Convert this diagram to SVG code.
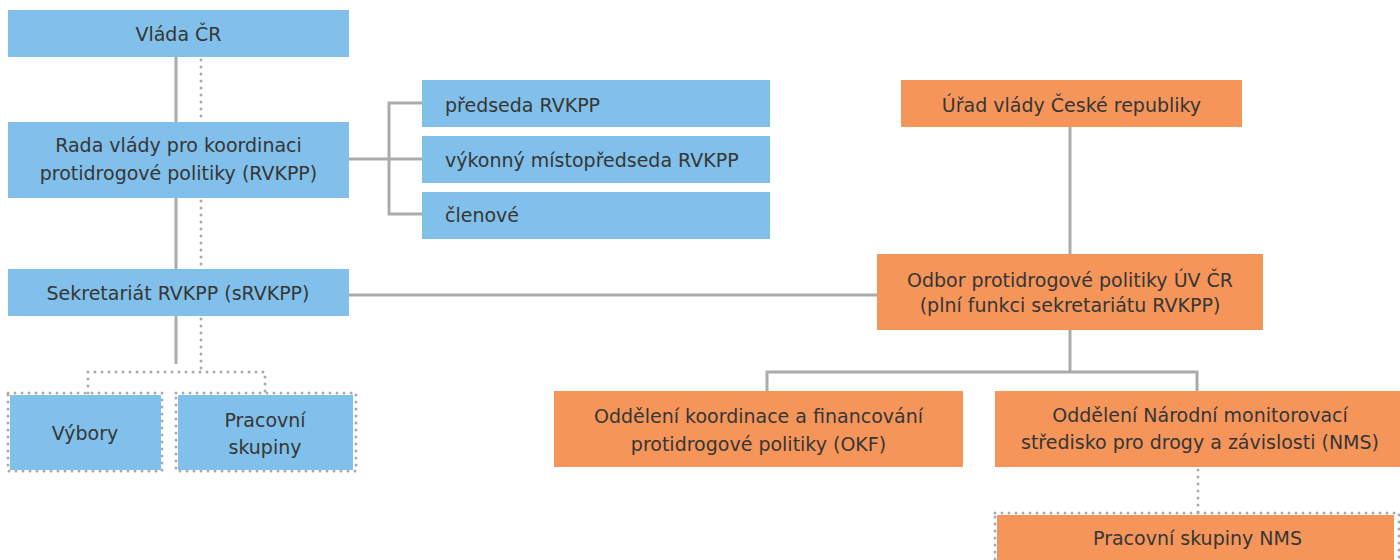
<svg xmlns="http://www.w3.org/2000/svg" width="1400" height="560" viewBox="0 0 1400 560">
<style>
.blue{fill:#81C0EA}
.orange{fill:#F5955A}
.t{font-family:"DejaVu Sans","Liberation Sans",sans-serif;font-size:19px;fill:#363636}
.c{text-anchor:middle}
.solid{fill:none;stroke:#ABABAE;stroke-width:3}
.dot{fill:none;stroke:#ABABAE;stroke-width:3;stroke-dasharray:0 7;stroke-linecap:round}
</style>
<rect width="1400" height="560" fill="#fff"/>
<g id="connectors">
<path class="solid" d="M176,57V122M176,198V269M176,316V364"/>
<path class="dot" d="M201,60V122M201,201V269M201,319V372M88,393V372H265V393"/>
<path class="solid" d="M349,159H422M422,103H389V214H422"/>
<path class="solid" d="M349,295H877"/>
<path class="solid" d="M1070,127V254M1070,330V372M767,391V372H1197V391"/>
<path class="dot" d="M1198,470V513"/>
</g>
<g id="vlada">
<rect class="blue" x="8" y="10" width="341" height="47"/>
<text class="t c" x="178.5" y="41">Vláda ČR</text>
</g>
<g id="rada">
<rect class="blue" x="8" y="122" width="341" height="76"/>
<text class="t c" x="178.5" y="152">Rada vlády pro koordinaci</text>
<text class="t c" x="178.5" y="180">protidrogové politiky (RVKPP)</text>
</g>
<g id="predseda">
<rect class="blue" x="422" y="80" width="348" height="47"/>
<text class="t" x="445" y="112">předseda RVKPP</text>
</g>
<g id="mistopredseda">
<rect class="blue" x="422" y="136" width="348" height="47"/>
<text class="t" x="445" y="167">výkonný místopředseda RVKPP</text>
</g>
<g id="clenove">
<rect class="blue" x="422" y="192" width="348" height="47"/>
<text class="t" x="445" y="222">členové</text>
</g>
<g id="sekretariat">
<rect class="blue" x="8" y="269" width="341" height="47"/>
<text class="t c" x="178" y="300">Sekretariát RVKPP (sRVKPP)</text>
</g>
<g id="vybory">
<rect class="dot" x="8" y="393" width="154" height="78"/>
<rect class="blue" x="10" y="395" width="151" height="75"/>
<text class="t c" x="85" y="440">Výbory</text>
</g>
<g id="pracovni">
<rect class="dot" x="176" y="393" width="180" height="78"/>
<rect class="blue" x="178" y="395" width="175" height="75"/>
<text class="t c" x="265" y="427">Pracovní</text>
<text class="t c" x="265" y="454">skupiny</text>
</g>
<g id="urad">
<rect class="orange" x="901" y="80" width="341" height="47"/>
<text class="t c" x="1071.5" y="112">Úřad vlády České republiky</text>
</g>
<g id="odbor">
<rect class="orange" x="877" y="254" width="386" height="76"/>
<text class="t c" x="1070" y="287">Odbor protidrogové politiky ÚV ČR</text>
<text class="t c" x="1070" y="312">(plní funkci sekretariátu RVKPP)</text>
</g>
<g id="okf">
<rect class="orange" x="554" y="391" width="409" height="76"/>
<text class="t c" x="758.5" y="423">Oddělení koordinace a financování</text>
<text class="t c" x="758.5" y="451">protidrogové politiky (OKF)</text>
</g>
<g id="nms">
<rect class="orange" x="995" y="391" width="410" height="76"/>
<text class="t c" x="1200" y="422">Oddělení Národní monitorovací</text>
<text class="t c" x="1200" y="449">středisko pro drogy a závislosti (NMS)</text>
</g>
<g id="pracovni-nms">
<rect class="dot" x="995" y="513" width="404" height="60"/>
<rect class="orange" x="997" y="515" width="397" height="50"/>
<text class="t c" x="1197.5" y="545">Pracovní skupiny NMS</text>
</g>
</svg>
